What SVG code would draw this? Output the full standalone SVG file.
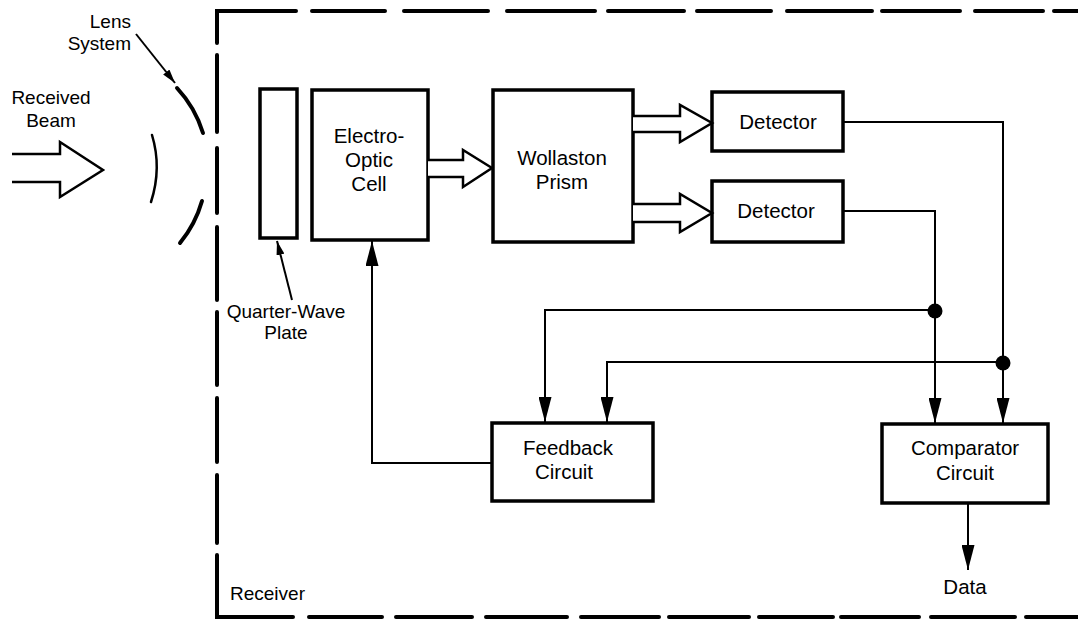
<svg xmlns="http://www.w3.org/2000/svg" width="1078" height="621" viewBox="0 0 1078 621">
<style>
  .box { fill: none; stroke: #000; stroke-width: 3.5; }
  .frame { fill: none; stroke: #000; stroke-width: 4; stroke-linecap: round; }
  .wire { fill: none; stroke: #000; stroke-width: 2; }
  .hollow { fill: #fff; stroke: #000; stroke-width: 2.5; stroke-linejoin: miter; }
  .lens { fill: none; stroke: #000; stroke-linecap: round; }
  text { font-family: "Liberation Sans", Arial, sans-serif; font-size: 20.5px; fill: #000; text-anchor: middle; }
  .lbl { font-size: 19px; }
</style>
<defs>
  <marker id="ah" viewBox="0 0 25 13" refX="25" refY="6.5" markerWidth="25" markerHeight="13" markerUnits="userSpaceOnUse" orient="auto">
    <path d="M0,0 L25,6.5 L0,13 Z" fill="#000"/>
  </marker>
  <marker id="ahs" viewBox="0 0 14 8" refX="14" refY="4" markerWidth="14" markerHeight="8" markerUnits="userSpaceOnUse" orient="auto">
    <path d="M0,0 L14,4 L0,8 Z" fill="#000"/>
  </marker>
</defs>
<rect width="1078" height="621" fill="#fff"/>

<g id="receiver-frame">
  <path class="frame" d="M217,43 V11 H296"/>
  <path class="frame" d="M217,55 V132 M217,148 V213 M217,227 V300 M217,312 V385 M217,398 V462 M217,475 V543"/>
  <path class="frame" d="M217,555 V617 H293"/>
  <path class="frame" d="M312,11 H385 M404,11 H488 M507,11 H595 M608,11 H684 M697,11 H771 M787,11 H872 M882,11 H960 M975,11 H1043 M1054,11 H1078"/>
  <path class="frame" d="M309,617 H382 M396,617 H472 M486,617 H567 M581,617 H659 M669,617 H749 M759,617 H833 M841,617 H919 M931,617 H1015 M1026,617 H1078"/>
  <text x="230" y="600" style="text-anchor:start" class="lbl">Receiver</text>
</g>

<g id="received-beam">
  <text x="51" y="104" class="lbl">Received</text>
  <text x="51" y="127" class="lbl">Beam</text>
</g>

<g id="lens-system">
  <path class="lens" stroke-width="2.5" d="M152,135 Q162,168 151,202"/>
  <path class="lens" stroke-width="4" d="M177,88 A116,116 0 0 1 203,133"/>
  <path class="lens" stroke-width="4" d="M202,201 A116,116 0 0 1 180,243"/>
  <text x="131" y="28" style="text-anchor:end" class="lbl">Lens</text>
  <text x="131" y="50" style="text-anchor:end" class="lbl">System</text>
</g>

<g id="quarter-wave-plate">
  <rect class="box" x="260" y="89" width="37" height="149"/>
  <text x="286" y="318" class="lbl">Quarter-Wave</text>
  <text x="286" y="339" class="lbl">Plate</text>
</g>

<g id="electro-optic-cell">
  <rect class="box" x="312" y="90" width="116" height="150"/>
  <text x="369" y="143">Electro-</text>
  <text x="369" y="167">Optic</text>
  <text x="369" y="191">Cell</text>
</g>

<g id="wollaston-prism">
  <rect class="box" x="493" y="90" width="140" height="152"/>
  <text x="562" y="165">Wollaston</text>
  <text x="562" y="189">Prism</text>
</g>

<g id="detector-1">
  <rect class="box" x="712" y="92" width="131" height="59"/>
  <text x="778" y="129">Detector</text>
</g>

<g id="detector-2">
  <rect class="box" x="712" y="181" width="131" height="61"/>
  <text x="776" y="218">Detector</text>
</g>

<g id="feedback-circuit">
  <rect class="box" x="492" y="423" width="161" height="78"/>
  <text x="568" y="455">Feedback</text>
  <text x="564" y="479">Circuit</text>
</g>

<g id="comparator-circuit">
  <rect class="box" x="882" y="424" width="166" height="79"/>
  <text x="965" y="455">Comparator</text>
  <text x="965" y="480">Circuit</text>
</g>

<g id="data">
  <text x="965" y="594">Data</text>
</g>

<g id="connectors">
  <!-- hollow beam arrows -->
  <path class="hollow" d="M12,154 H60 V142 L103,170 L60,197 V182 H12"/>
  <path class="hollow" d="M428,160 H463 V150 L492,168 L463,187 V177 H428"/>
  <path class="hollow" d="M633,116 H680 V105 L712,123 L680,142 V132 H633"/>
  <path class="hollow" d="M633,204 H680 V194 L712,213 L680,232 V222 H633"/>
  <!-- leaders -->
  <line class="wire" x1="136" y1="34" x2="175" y2="83" marker-end="url(#ahs)"/>
  <line class="wire" x1="292" y1="300" x2="277" y2="241" marker-end="url(#ahs)"/>
  <!-- detector outputs -->
  <path class="wire" d="M843,122 H1003 V423" marker-end="url(#ah)"/>
  <path class="wire" d="M843,211 H935 V423" marker-end="url(#ah)"/>
  <!-- taps to feedback -->
  <path class="wire" d="M935,310 H545 V422" marker-end="url(#ah)"/>
  <path class="wire" d="M1003,362 H607 V422" marker-end="url(#ah)"/>
  <circle cx="935" cy="311" r="7.5" fill="#000"/>
  <circle cx="1003" cy="363" r="7.5" fill="#000"/>
  <!-- feedback to EO cell -->
  <path class="wire" d="M492,463 H372 V241" marker-end="url(#ah)"/>
  <!-- comparator to data -->
  <path class="wire" d="M968,503 V570" marker-end="url(#ah)"/>
</g>
</svg>
